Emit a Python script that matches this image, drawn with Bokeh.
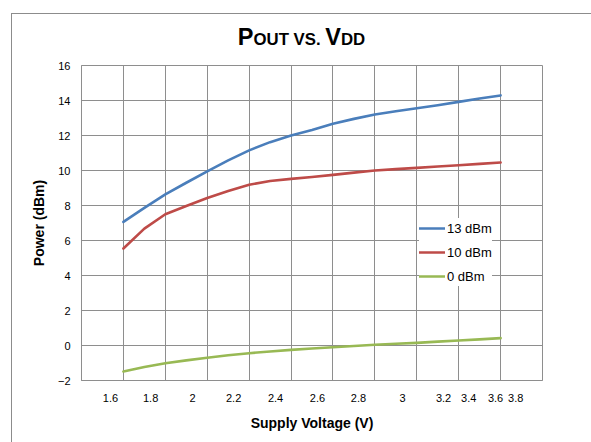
from bokeh.plotting import figure
from bokeh.models import FixedTicker, Legend, LegendItem, Range1d, Div
from bokeh.layouts import row, column
from bokeh.embed import file_html
from bokeh.resources import INLINE

# ---- data ----
vdd = [1.8, 1.9, 2.0, 2.1, 2.2, 2.3, 2.4, 2.5, 2.6, 2.7, 2.8, 2.9, 3.0, 3.1, 3.2, 3.3, 3.4, 3.5, 3.6]
pout_13 = [7.06, 7.86, 8.64, 9.30, 9.95, 10.58, 11.15, 11.62, 12.0, 12.32, 12.67, 12.95, 13.2,
           13.39, 13.56, 13.73, 13.92, 14.11, 14.29]
pout_10 = [5.54, 6.68, 7.50, 7.97, 8.43, 8.83, 9.19, 9.40, 9.52, 9.63, 9.75, 9.88, 10.0,
           10.08, 10.15, 10.23, 10.30, 10.38, 10.46]
pout_0 = [-1.49, -1.23, -1.01, -0.85, -0.70, -0.56, -0.44, -0.34, -0.25, -0.17, -0.10, -0.03, 0.04,
          0.10, 0.15, 0.22, 0.29, 0.35, 0.42]
series_names = ["13 dBm", "10 dBm", "0 dBm"]
x_tick_labels = ["1.6", "1.8", "2", "2.2", "2.4", "2.6", "2.8", "3", "3.2", "3.4", "3.6", "3.8"]
x_grid = [1.6, 1.8, 2.0, 2.2, 2.4, 2.6, 2.8, 3.0, 3.2, 3.4, 3.6, 3.8]
y_ticks = [-2, 0, 2, 4, 6, 8, 10, 12, 14, 16]
title_parts = [("P", True), ("OUT VS. ", False), ("V", True), ("DD", False)]

# positions where the reference prints its x labels (layout only)
x_label_pos = [1.738, 1.93, 2.13, 2.326, 2.526, 2.726, 2.922, 3.132, 3.328, 3.448, 3.576, 3.672]

FONT = "Liberation Sans"
GRID = "#8e8e8e"
BORDER = "#8c8c8c"
colors = ["#4A7EBB", "#BE4B48", "#98B954"]

p = figure(width=579, height=384, output_backend="svg", toolbar_location=None,
           x_range=Range1d(1.6, 3.8), y_range=Range1d(-2, 16),
           min_border_left=69, min_border_right=49, min_border_top=7, min_border_bottom=62)
p.margin = 0
p.background_fill_color = "white"
p.border_fill_color = "white"
p.outline_line_color = GRID
p.outline_line_width = 1

# grids
p.xgrid.ticker = FixedTicker(ticks=x_grid)
p.ygrid.ticker = FixedTicker(ticks=y_ticks)
for g in (p.xgrid, p.ygrid):
    g.grid_line_color = GRID
    g.grid_line_width = 1

# axes
p.xaxis.ticker = FixedTicker(ticks=x_label_pos)
p.xaxis.major_label_overrides = {pos: lab for pos, lab in zip(x_label_pos, x_tick_labels)}
p.yaxis.ticker = FixedTicker(ticks=y_ticks)
for ax in (p.xaxis[0], p.yaxis[0]):
    ax.axis_line_color = GRID
    ax.major_tick_line_color = None
    ax.minor_tick_line_color = None
    ax.major_tick_out = 0
    ax.major_tick_in = 0
    ax.major_label_text_font = FONT
    ax.major_label_text_font_size = "11px"
    ax.major_label_text_color = "#000000"
    ax.axis_label_text_font = FONT
    ax.axis_label_text_font_size = "14px"
    ax.axis_label_text_font_style = "bold"
    ax.axis_label_text_color = "#000000"
p.xaxis.major_label_standoff = 13
p.xaxis.axis_label_standoff = 10
p.yaxis.major_label_standoff = 11
p.yaxis.axis_label_standoff = 8
p.xaxis.axis_label = "Supply Voltage (V)"
p.yaxis.axis_label = "Power (dBm)"

# lines
renderers = []
for ys, c in zip([pout_13, pout_10, pout_0], colors):
    r = p.line(vdd, ys, line_color=c, line_width=2.6, line_join="round", line_cap="round")
    renderers.append(r)

legend = Legend(items=[LegendItem(label=n, renderers=[r]) for n, r in zip(series_names, renderers)],
                location=(338, 94))
legend.background_fill_color = "white"
legend.background_fill_alpha = 1.0
legend.border_line_color = None
legend.label_text_font = FONT
legend.label_text_font_size = "13px"
legend.label_text_color = "#000000"
legend.glyph_width = 26
legend.glyph_height = 20
legend.label_height = 20
legend.spacing = 4
legend.padding = 6
legend.margin = 0
legend.label_standoff = 2
p.add_layout(legend)

# title (small caps built from spans) and the chart-area border, as HTML
spans = "".join(
    t if big else f'<span style="font-size:16.8px">{t}</span>' for t, big in title_parts)
title_html = (
    '<div style="position:relative;width:579px;height:58px;overflow:hidden;margin:0;padding:0">'
    f'<div style="position:absolute;left:0;top:13px;width:600px;height:1px;background:{BORDER}"></div>'
    '<div style="position:absolute;left:0px;top:25.5px;width:579px;text-align:center;white-space:pre;'
    f"font-family:'{FONT}';font-weight:bold;font-size:23.5px;line-height:23.5px;color:#000\">"
    f'{spans}</div></div>')
title_div = Div(text=title_html, width=579, height=58, margin=0)

border_html = (
    '<div style="position:relative;width:12px;height:442px;overflow:hidden;margin:0;padding:0">'
    f'<div style="position:absolute;left:11px;top:13px;width:1px;height:500px;background:{BORDER}"></div>'
    f'<div style="position:absolute;left:11px;top:13px;width:20px;height:1px;background:{BORDER}"></div>'
    '</div>')
border_div = Div(text=border_html, width=12, height=442, margin=0)

layout = row(border_div, column(title_div, p, spacing=0, margin=0), spacing=0, margin=0)

open("out.html", "w").write(file_html(layout, INLINE))
